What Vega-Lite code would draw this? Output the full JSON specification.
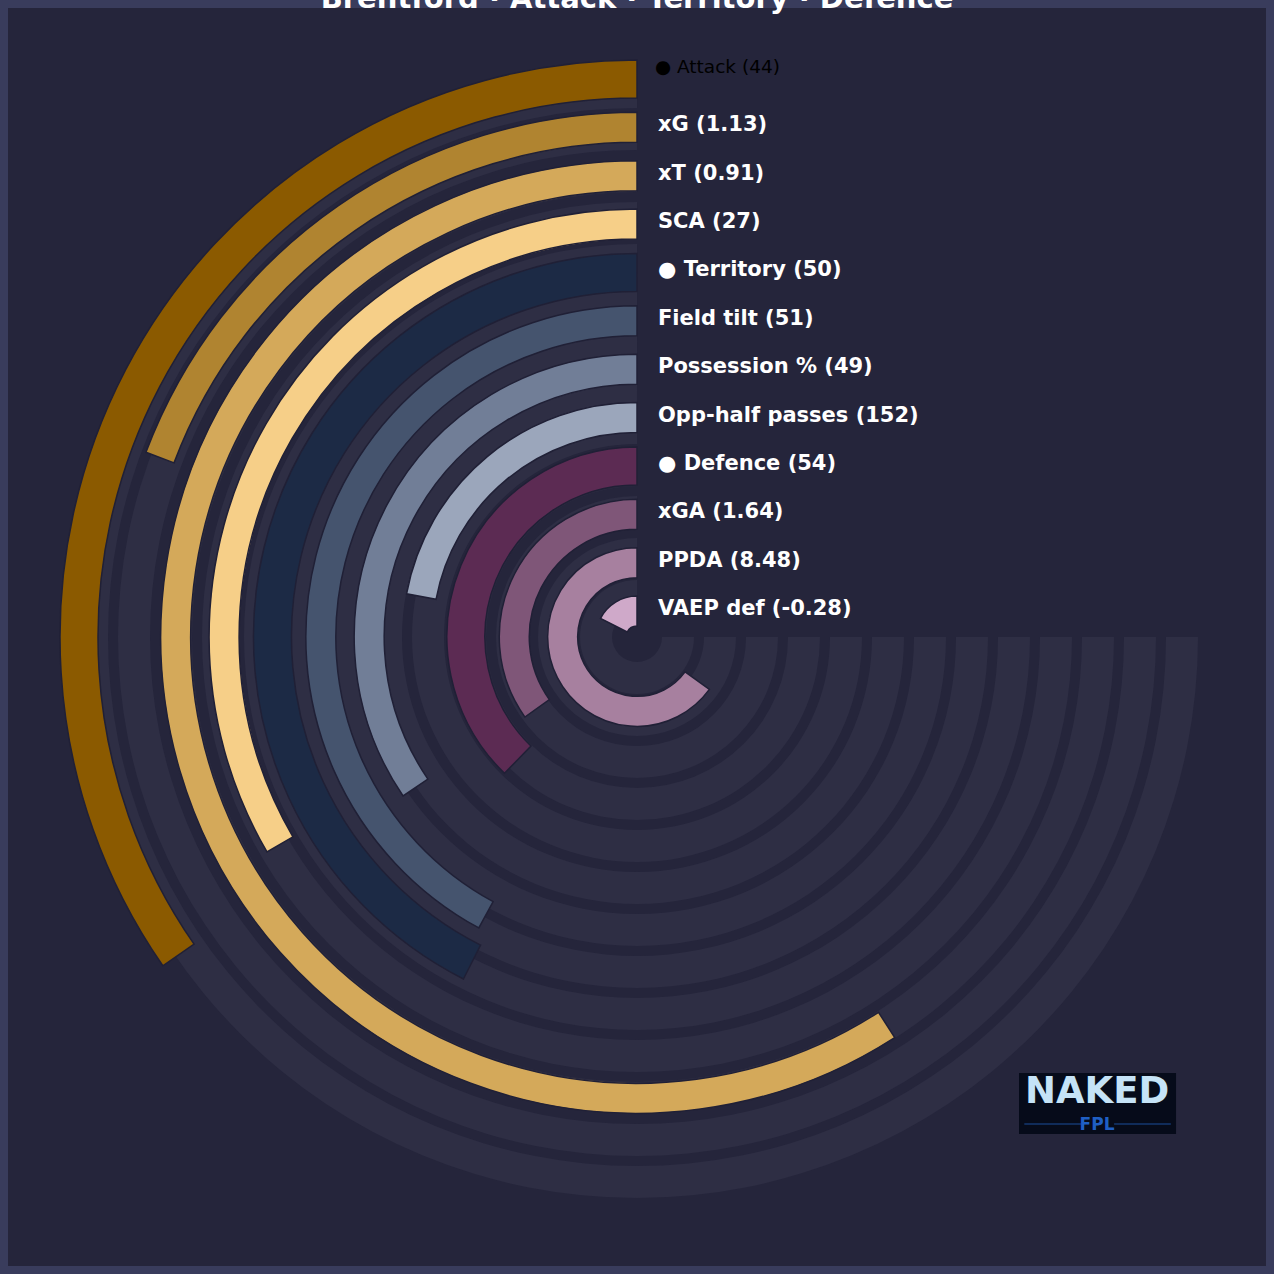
{
  "$schema": "https://vega.github.io/schema/vega-lite/v6.json",
  "width": 1274,
  "height": 1274,
  "autosize": {"type": "none"},
  "padding": 0,
  "background": "#393c5c",
  "config": {
    "view": {"fill": "#25253b", "stroke": "#393c5c", "strokeWidth": 16}
  },
  "datasets": {
    "tracks": [
      {"j": 0}, {"j": 1}, {"j": 2}, {"j": 3}, {"j": 4}, {"j": 5}, {"j": 6},
      {"j": 7}, {"j": 8}, {"j": 9}, {"j": 10}, {"j": 11}, {"j": 12}
    ],
    "metrics": [
      {"k": 11, "metric": "Attack", "label": "● Attack (44)", "pct": 46.2, "group": true},
      {"k": 10, "metric": "xG", "label": "xG (1.13)", "pct": 25.7, "group": false},
      {"k": 9, "metric": "xT", "label": "xT (0.91)", "pct": 78.8, "group": false},
      {"k": 8, "metric": "SCA", "label": "SCA (27)", "pct": 44.5, "group": false},
      {"k": 7, "metric": "Territory", "label": "● Territory (50)", "pct": 56.7, "group": true},
      {"k": 6, "metric": "Field tilt", "label": "Field tilt (51)", "pct": 56.1, "group": false},
      {"k": 5, "metric": "Possession %", "label": "Possession % (49)", "pct": 46.0, "group": false},
      {"k": 4, "metric": "Opp-half passes", "label": "Opp-half passes (152)", "pct": 29.4, "group": false},
      {"k": 3, "metric": "Defence", "label": "● Defence (54)", "pct": 50.3, "group": true},
      {"k": 2, "metric": "xGA", "label": "xGA (1.64)", "pct": 46.5, "group": false},
      {"k": 1, "metric": "PPDA", "label": "PPDA (8.48)", "pct": 86.7, "group": false},
      {"k": 0, "metric": "VAEP def", "label": "VAEP def (-0.28)", "pct": 23.3, "group": false}
    ],
    "one": [{"title": "Brentford · Attack · Territory · Defence", "brand": "NAKED", "sub": "FPL"}]
  },
  "layer": [
    {
      "data": {"name": "tracks"},
      "mark": {"type": "arc", "theta": 1.5708, "theta2": 6.2832, "radiusOffset": 16, "radius2Offset": -16, "fill": "#2e2e44"},
      "encoding": {
        "radius": {"field": "j", "type": "quantitative", "scale": {"type": "linear", "domain": [0, 12], "range": [41, 545], "zero": false}},
        "radius2": {"field": "j"}
      }
    },
    {
      "data": {"name": "metrics"},
      "transform": [{"filter": "!datum.group"}],
      "mark": {"type": "arc", "radiusOffset": 15, "radius2Offset": -15, "stroke": "#202036", "strokeWidth": 1.5},
      "encoding": {
        "theta": {"field": "pct", "type": "quantitative", "scale": {"type": "linear", "domain": [0, 100], "range": [6.2832, 1.5708], "zero": false}},
        "theta2": {"datum": 0},
        "radius": {"field": "k", "type": "quantitative", "scale": {"type": "linear", "domain": [0, 11], "range": [26, 558], "zero": false}},
        "radius2": {"field": "k"},
        "color": {
          "field": "metric", "type": "nominal", "legend": null,
          "scale": {
            "domain": ["Attack", "xG", "xT", "SCA", "Territory", "Field tilt", "Possession %", "Opp-half passes", "Defence", "xGA", "PPDA", "VAEP def"],
            "range": ["#8b5a00", "#b08430", "#d4a95a", "#f6cf88", "#1c2a45", "#45546e", "#717e97", "#9ba6bb", "#5c2b53", "#7f5678", "#a7809f", "#cfa9c9"]
          }
        }
      }
    },
    {
      "data": {"name": "metrics"},
      "transform": [{"filter": "datum.group"}],
      "mark": {"type": "arc", "radiusOffset": 19, "radius2Offset": -19, "stroke": "#202036", "strokeWidth": 1.5},
      "encoding": {
        "theta": {"field": "pct", "type": "quantitative", "scale": {"type": "linear", "domain": [0, 100], "range": [6.2832, 1.5708], "zero": false}},
        "theta2": {"datum": 0},
        "radius": {"field": "k", "type": "quantitative", "scale": {"type": "linear", "domain": [0, 11], "range": [26, 558], "zero": false}},
        "radius2": {"field": "k"},
        "color": {
          "field": "metric", "type": "nominal", "legend": null,
          "scale": {
            "domain": ["Attack", "xG", "xT", "SCA", "Territory", "Field tilt", "Possession %", "Opp-half passes", "Defence", "xGA", "PPDA", "VAEP def"],
            "range": ["#8b5a00", "#b08430", "#d4a95a", "#f6cf88", "#1c2a45", "#45546e", "#717e97", "#9ba6bb", "#5c2b53", "#7f5678", "#a7809f", "#cfa9c9"]
          }
        }
      }
    },
    {
      "data": {"name": "metrics"},
      "transform": [{"filter": "datum.metric !== 'Attack'"}],
      "mark": {"type": "text", "align": "left", "baseline": "middle", "dx": 21, "dy": -2, "font": "DejaVu Sans", "fontWeight": "bold", "fontSize": 21, "fill": "#ffffff"},
      "encoding": {
        "x": {"datum": 0, "type": "quantitative", "scale": {"type": "linear", "domain": [-1, 1], "range": [0, 1274]}, "axis": null},
        "y": {"field": "k", "type": "quantitative", "scale": {"type": "linear", "domain": [0, 11], "range": [611, 79], "zero": false}, "axis": null},
        "text": {"field": "label"}
      }
    },
    {
      "data": {"name": "metrics"},
      "transform": [{"filter": "datum.metric === 'Attack'"}],
      "mark": {"type": "text", "align": "left", "baseline": "middle", "dx": 18, "dy": -12, "font": "DejaVu Sans", "fontWeight": "normal", "fontSize": 18.5, "fill": "#000000"},
      "encoding": {
        "x": {"datum": 0, "type": "quantitative", "scale": {"type": "linear", "domain": [-1, 1], "range": [0, 1274]}, "axis": null},
        "y": {"field": "k", "type": "quantitative", "scale": {"type": "linear", "domain": [0, 11], "range": [611, 79], "zero": false}, "axis": null},
        "text": {"field": "label"}
      }
    },
    {
      "data": {"name": "one"},
      "layer": [
        {
          "mark": {"type": "text", "align": "center", "baseline": "alphabetic", "font": "DejaVu Sans", "fontWeight": "bold", "fontSize": 29, "fill": "#ffffff"},
          "encoding": {
            "x": {"datum": 0, "type": "quantitative", "scale": {"type": "linear", "domain": [-1, 1], "range": [0, 1274]}, "axis": null},
            "y": {"datum": 0.9874, "type": "quantitative", "scale": {"type": "linear", "domain": [-1, 1], "range": [1274, 0]}, "axis": null},
            "text": {"field": "title"}
          }
        },
        {
          "mark": {"type": "rect", "fill": "#060b1a"},
          "encoding": {
            "x": {"datum": 0.5997, "type": "quantitative", "scale": {"type": "linear", "domain": [-1, 1], "range": [0, 1274]}, "axis": null},
            "x2": {"datum": 0.8462},
            "y": {"datum": -0.6845, "type": "quantitative", "scale": {"type": "linear", "domain": [-1, 1], "range": [1274, 0]}, "axis": null},
            "y2": {"datum": -0.7802}
          }
        },
        {
          "mark": {"type": "rule", "stroke": "#1a4e9a", "strokeWidth": 1.2},
          "encoding": {
            "x": {"datum": 0.608, "type": "quantitative", "scale": {"type": "linear", "domain": [-1, 1], "range": [0, 1274]}, "axis": null},
            "x2": {"datum": 0.697},
            "y": {"datum": -0.7645, "type": "quantitative", "scale": {"type": "linear", "domain": [-1, 1], "range": [1274, 0]}, "axis": null}
          }
        },
        {
          "mark": {"type": "rule", "stroke": "#1a4e9a", "strokeWidth": 1.2},
          "encoding": {
            "x": {"datum": 0.749, "type": "quantitative", "scale": {"type": "linear", "domain": [-1, 1], "range": [0, 1274]}, "axis": null},
            "x2": {"datum": 0.838},
            "y": {"datum": -0.7645, "type": "quantitative", "scale": {"type": "linear", "domain": [-1, 1], "range": [1274, 0]}, "axis": null}
          }
        },
        {
          "mark": {"type": "text", "align": "center", "baseline": "middle", "font": "DejaVu Sans", "fontWeight": "bold", "fontSize": 37, "fill": "#c5e3f7"},
          "encoding": {
            "x": {"datum": 0.7222, "type": "quantitative", "scale": {"type": "linear", "domain": [-1, 1], "range": [0, 1274]}, "axis": null},
            "y": {"datum": -0.7143, "type": "quantitative", "scale": {"type": "linear", "domain": [-1, 1], "range": [1274, 0]}, "axis": null},
            "text": {"field": "brand"}
          }
        },
        {
          "mark": {"type": "text", "align": "center", "baseline": "middle", "font": "DejaVu Sans", "fontWeight": "bold", "fontSize": 17, "fill": "#1f5fc4"},
          "encoding": {
            "x": {"datum": 0.7222, "type": "quantitative", "scale": {"type": "linear", "domain": [-1, 1], "range": [0, 1274]}, "axis": null},
            "y": {"datum": -0.766, "type": "quantitative", "scale": {"type": "linear", "domain": [-1, 1], "range": [1274, 0]}, "axis": null},
            "text": {"field": "sub"}
          }
        }
      ]
    }
  ],
  "resolve": {"scale": {"radius": "independent", "theta": "independent", "y": "independent"}}
}
